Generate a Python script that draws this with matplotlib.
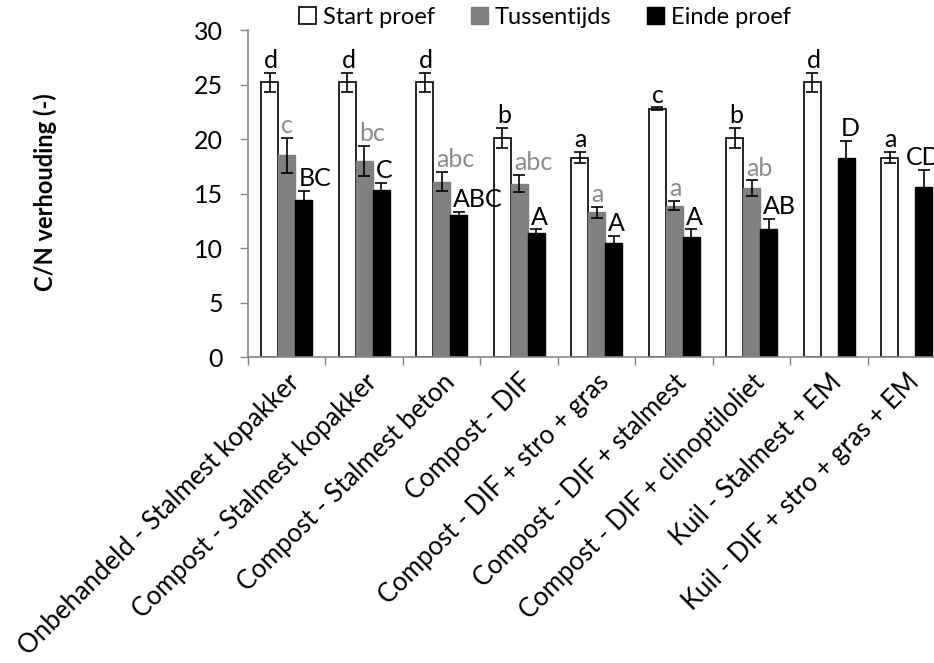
import numpy as np
import matplotlib.pyplot as plt

plt.rcParams['font.family'] = ['Lato', 'DejaVu Sans']

# categorieen en waarden
behandelingen = ['Onbehandeld - Stalmest kopakker', 'Compost - Stalmest kopakker',
                 'Compost - Stalmest beton', 'Compost - DIF', 'Compost - DIF + stro + gras',
                 'Compost - DIF + stalmest', 'Compost - DIF + clinoptiloliet',
                 'Kuil - Stalmest + EM', 'Kuil - DIF + stro + gras + EM']
start = [25.2, 25.2, 25.2, 20.1, 18.3, 22.8, 20.1, 25.2, 18.3]
start_err = [0.9, 0.9, 0.9, 0.9, 0.5, 0.1, 0.9, 0.9, 0.5]
tussen = [18.5, 18.0, 16.1, 15.9, 13.3, 13.9, 15.5, np.nan, np.nan]
tussen_err = [1.6, 1.4, 0.9, 0.8, 0.5, 0.4, 0.7, np.nan, np.nan]
einde = [14.4, 15.3, 13.0, 11.4, 10.5, 11.0, 11.7, 18.3, 15.6]
einde_err = [0.8, 0.7, 0.3, 0.3, 0.6, 0.7, 1.0, 1.5, 1.6]
letters_start = ['d', 'd', 'd', 'b', 'a', 'c', 'b', 'd', 'a']
letters_tussen = ['c', 'bc', 'abc', 'abc', 'a', 'a', 'ab', '', '']
letters_einde = ['BC', 'C', 'ABC', 'A', 'A', 'A', 'AB', 'D', 'CD']

x = np.arange(len(behandelingen))
w = 0.22

fig = plt.figure(figsize=(9.34, 6.63), dpi=100)
ax = fig.add_axes([0.2655, 0.4615, 0.7468, 0.4932])

ekw = dict(ecolor='black', elinewidth=1.2, capsize=4, capthick=1.2)
ax.bar(x - w, start, w, yerr=start_err, color='white', edgecolor='black', linewidth=1.2,
       label='Start proef', error_kw=ekw, zorder=2)
ax.bar(x, tussen, w, yerr=tussen_err, color='#808080', edgecolor='#808080',
       label='Tussentijds', error_kw=ekw, zorder=2)
ax.bar(x + w, einde, w, yerr=einde_err, color='black', edgecolor='black',
       label='Einde proef', error_kw=ekw, zorder=2)

# letters voor significantie
for reeks, fout, lab, dx, kleur in [(start, start_err, letters_start, -w, 'black'),
                                     (tussen, tussen_err, letters_tussen, 0, '#8c8c8c'),
                                     (einde, einde_err, letters_einde, w, 'black')]:
    for i in range(len(x)):
        if lab[i] == '':
            continue
        xpos = x[i] + dx - w / 2 + 0.04
        if lab[i] == 'CD':
            xpos -= 0.16
        ax.text(xpos, reeks[i] + fout[i] + 0.45, lab[i],
                ha='left', va='baseline', fontsize=18, color=kleur)

ax.set_xlim(-0.5, len(x) - 0.5)
ax.set_ylim(0, 30)
ax.set_yticks(range(0, 31, 5))
ax.set_xticks(x)
ax.set_xticklabels(behandelingen, rotation=45, ha='right', rotation_mode='anchor', fontsize=18.5)
ax.set_xticks(np.arange(-0.5, len(x)), minor=True)
ax.tick_params(axis='x', which='major', length=0, pad=9)
ax.tick_params(axis='x', which='minor', length=6, color='#868686', width=1)
ax.tick_params(axis='y', length=6, color='#868686', width=1, labelsize=18, pad=12)
for s in ['top', 'right']:
    ax.spines[s].set_visible(False)
for s in ['left', 'bottom']:
    ax.spines[s].set_color('#868686')
    ax.spines[s].set_linewidth(1.2)

fig.text(45 / 934, 1 - 192 / 663, 'C/N verhouding (-)', rotation=90, fontsize=17,
         fontweight='bold', ha='center', va='center')

ax.legend(loc='upper left', bbox_to_anchor=(299 / 934, 1 - 7 / 663),
          bbox_transform=fig.transFigure, ncol=3, frameon=False,
          fontsize=17, handlelength=0.72, handleheight=0.72, handletextpad=0.3,
          columnspacing=1.5, borderaxespad=0, borderpad=0)

fig.savefig('out.png', dpi=100)
